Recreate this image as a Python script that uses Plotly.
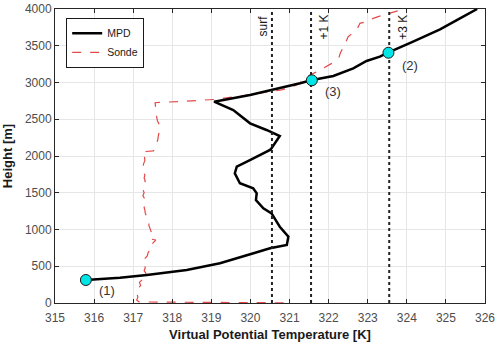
import plotly.graph_objects as go

# MPD retrieval (virtual potential temperature vs height)
mpd_temp = [315.79, 316.66, 317.35, 318.37, 319.22, 319.73, 320.10, 320.50, 320.93, 320.97,
            320.75, 320.54, 320.33, 320.14, 320.16, 320.07, 319.73, 319.60, 319.65, 320.00,
            320.24, 320.50, 320.54, 320.75, 320.41, 319.99, 319.56, 319.07, 319.99, 320.84,
            321.27, 321.55, 322.12, 322.63, 322.97, 323.31, 323.52, 324.16, 324.85, 325.36,
            325.80]
mpd_height = [313, 344, 381, 449, 540, 617, 680, 744, 789, 902,
              1038, 1220, 1288, 1401, 1493, 1561, 1629, 1765, 1855, 1946,
              2014, 2082, 2105, 2272, 2354, 2445, 2626, 2739, 2830, 2929,
              2989, 3030, 3088, 3193, 3293, 3351, 3405, 3556, 3724, 3873,
              4000]

# radiosonde profile
sonde_temp = [320.85, 319.60, 318.30, 317.15, 317.09, 317.12, 317.10, 317.15, 317.13, 317.19,
              317.16, 317.24, 317.20, 317.33, 317.28, 317.31, 317.27, 317.32, 317.29, 317.36,
              317.38, 317.42, 317.40, 317.47, 317.53, 317.58, 317.45, 317.43, 317.48, 317.45,
              317.44, 317.40, 317.41, 317.37, 317.35, 317.31, 317.30, 317.28, 317.31, 317.26,
              317.29, 317.25, 317.28, 317.25, 317.29, 317.27, 317.31, 317.28, 317.30, 317.26,
              317.29, 317.25, 317.27, 317.30, 317.29, 317.26, 317.23, 317.52, 317.56, 317.59,
              317.60, 317.63, 317.64, 317.66, 317.67, 317.69, 317.65, 317.62, 317.60, 317.59,
              317.58, 317.57, 317.56, 318.30, 319.10, 319.80, 320.41, 320.80, 321.05, 321.18,
              321.28, 321.32, 321.45, 321.52, 321.72, 321.95, 322.08, 322.20, 322.27, 322.30,
              322.34, 322.37, 322.44, 322.50, 322.60, 322.71, 322.76, 322.80, 322.97, 323.14,
              323.35, 323.57, 323.80, 324.05]
sonde_height = [3, 6, 10, 14, 40, 80, 120, 160, 200, 240,
                280, 320, 360, 400, 440, 480, 520, 560, 600, 640,
                680, 720, 760, 800, 840, 857, 870, 900, 940, 980,
                1020, 1060, 1100, 1140, 1180, 1220, 1260, 1300, 1340, 1380,
                1420, 1460, 1500, 1540, 1580, 1620, 1660, 1700, 1740, 1780,
                1820, 1860, 1900, 1940, 1980, 2020, 2058, 2070, 2105, 2140,
                2180, 2220, 2263, 2300, 2340, 2399, 2440, 2480, 2535, 2580,
                2626, 2680, 2725, 2745, 2770, 2820, 2875, 2900, 2940, 2966,
                3000, 3034, 3070, 3102, 3150, 3215, 3260, 3306, 3350, 3400,
                3450, 3488, 3550, 3623, 3670, 3714, 3760, 3805, 3828, 3873,
                3910, 3941, 3980, 4023]

# reference temperatures (surface, +1 K, +3 K)
ref_temp = [320.55, 321.55, 323.55]
ref_labels = ["surf", "+1 K", "+3 K"]
ref_shift = [-9, 12, 13]

# marked points
pt_temp = [315.79, 323.53, 321.57]
pt_height = [313, 3405, 3030]
pt_labels = ["(1)", "(2)", "(3)"]
pt_label_temp = [316.33, 324.08, 322.10]
pt_label_height = [165, 3225, 2875]

fig = go.Figure()

fig.add_trace(go.Scatter(x=sonde_temp, y=sonde_height, mode="lines", name="Sonde",
                         line=dict(color="#e24a4a", width=1.2, dash="dash")))
fig.add_trace(go.Scatter(x=mpd_temp, y=mpd_height, mode="lines", name="MPD",
                         line=dict(color="black", width=2.5)))

for t in ref_temp:
    fig.add_trace(go.Scatter(x=[t, t], y=[0, 4000], mode="lines", showlegend=False,
                             line=dict(color="#222222", width=2, dash="dot")))

fig.add_trace(go.Scatter(x=pt_temp, y=pt_height, mode="markers", showlegend=False,
                         marker=dict(color="#00e5e5", size=11,
                                     line=dict(color="#1a1a1a", width=1))))

for t, lab, s in zip(ref_temp, ref_labels, ref_shift):
    fig.add_annotation(x=t, y=4000, text=lab, showarrow=False, textangle=-90,
                       xshift=s, yshift=-4, yanchor="top", xanchor="center",
                       font=dict(size=12, color="#1a1a1a"))

for t, h, lab in zip(pt_label_temp, pt_label_height, pt_labels):
    fig.add_annotation(x=t, y=h, text=lab, showarrow=False,
                       font=dict(size=13, color="#333333"))

axis_common = dict(
    showgrid=True, gridcolor="#e6e6e6", gridwidth=1,
    showline=True, linecolor="#262626", linewidth=1, mirror="ticks",
    ticks="inside", ticklen=4, tickcolor="#262626",
    tickfont=dict(size=12, color="#4d4d4d"), zeroline=False,
    automargin=False,
)

fig.update_layout(
    width=500, height=348,
    margin=dict(l=55, r=15, t=9, b=45),
    paper_bgcolor="white", plot_bgcolor="white",
    font=dict(family="Liberation Sans, Arial, sans-serif"),
    xaxis=dict(range=[315, 326], dtick=1, ticklabelstandoff=4,
               title=dict(text="<b>Virtual Potential Temperature [K]</b>",
                          font=dict(size=13, color="#1a1a1a"), standoff=5),
               **axis_common),
    yaxis=dict(range=[0, 4000], dtick=500,
               title=dict(text="<b>Height [m]</b>",
                          font=dict(size=13, color="#1a1a1a"), standoff=10),
               **axis_common),
    legend=dict(x=0.026, y=0.97, xanchor="left", yanchor="top",
                bgcolor="white", bordercolor="#1a1a1a", borderwidth=1,
                font=dict(size=10.5, color="#1a1a1a"), traceorder="reversed",
                tracegroupgap=0, itemwidth=30),
    showlegend=True,
)

# drop the browser's default 8px body margin so the figure sits at the page origin
fig.write_html("out.html", config={"displayModeBar": False},
               post_script="document.body.style.margin='0px';")
